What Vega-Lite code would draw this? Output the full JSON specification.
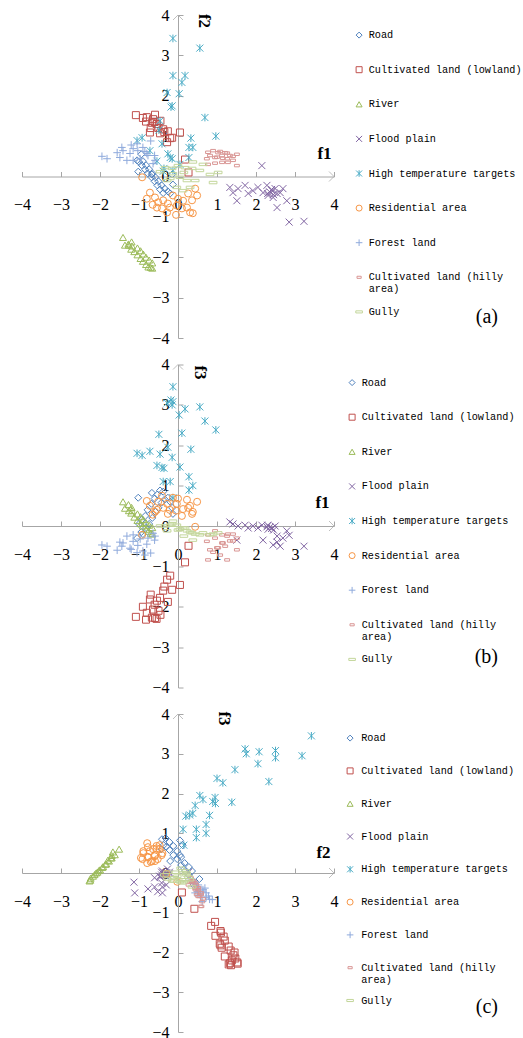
{
"$schema": "https://vega.github.io/schema/vega-lite/v6.json",
"padding": {"left": 13, "top": 7, "right": 0, "bottom": 0},
"bounds": "flush",
"spacing": 26.5,
"datasets": {
"pts": [
{"cls":"Road","f1":-0.94,"f2":0.55,"f3":-0.15},{"cls":"Road","f1":-1.05,"f2":0.4,"f3":-0.3},{"cls":"Road","f1":-1.0,"f2":0.36,"f3":0.05},{"cls":"Road","f1":-0.9,"f2":0.38,"f3":-0.2},{"cls":"Road","f1":-0.93,"f2":0.28,"f3":0.15},{"cls":"Road","f1":-0.82,"f2":0.28,"f3":-0.05},{"cls":"Road","f1":-0.84,"f2":0.17,"f3":0.25},{"cls":"Road","f1":-0.74,"f2":0.18,"f3":0.05},{"cls":"Road","f1":-0.78,"f2":0.08,"f3":0.4},{"cls":"Road","f1":-0.66,"f2":0.08,"f3":0.2},{"cls":"Road","f1":-0.68,"f2":-0.02,"f3":0.55},{"cls":"Road","f1":-0.58,"f2":-0.02,"f3":0.35},{"cls":"Road","f1":-0.6,"f2":-0.12,"f3":0.68},{"cls":"Road","f1":-0.5,"f2":-0.12,"f3":0.45},{"cls":"Road","f1":-0.53,"f2":-0.22,"f3":0.78},{"cls":"Road","f1":-0.42,"f2":-0.22,"f3":0.58},{"cls":"Road","f1":-0.46,"f2":-0.32,"f3":0.88},{"cls":"Road","f1":-0.34,"f2":-0.3,"f3":0.66},{"cls":"Road","f1":-0.38,"f2":-0.41,"f3":0.85},{"cls":"Road","f1":-0.26,"f2":-0.37,"f3":0.7},{"cls":"Road","f1":-0.2,"f2":-0.42,"f3":0.6},{"cls":"Road","f1":-1.02,"f2":0.12,"f3":0.7},{"cls":"Road","f1":-0.67,"f2":0.05,"f3":0.82},{"cls":"Road","f1":-0.13,"f2":-0.2,"f3":0.3},{"cls":"Road","f1":-0.15,"f2":0.05,"f3":0.45},
{"cls":"Cultivated land (lowland)","f1":-1.08,"f2":1.52,"f3":-2.25},{"cls":"Cultivated land (lowland)","f1":-0.82,"f2":1.36,"f3":-2.32},{"cls":"Cultivated land (lowland)","f1":-0.8,"f2":1.47,"f3":-2.15},{"cls":"Cultivated land (lowland)","f1":-0.67,"f2":1.33,"f3":-2.27},{"cls":"Cultivated land (lowland)","f1":-0.64,"f2":1.42,"f3":-2.07},{"cls":"Cultivated land (lowland)","f1":-0.72,"f2":1.09,"f3":-1.82},{"cls":"Cultivated land (lowland)","f1":-0.54,"f2":1.3,"f3":-1.85},{"cls":"Cultivated land (lowland)","f1":-0.46,"f2":1.07,"f3":-1.78},{"cls":"Cultivated land (lowland)","f1":-0.38,"f2":1.17,"f3":-1.6},{"cls":"Cultivated land (lowland)","f1":-0.28,"f2":0.85,"f3":-1.33},{"cls":"Cultivated land (lowland)","f1":-0.2,"f2":0.95,"f3":-1.23},{"cls":"Cultivated land (lowland)","f1":-0.15,"f2":0.96,"f3":-1.58},{"cls":"Cultivated land (lowland)","f1":0.05,"f2":1.09,"f3":-1.46},{"cls":"Cultivated land (lowland)","f1":-0.26,"f2":1.12,"f3":-1.88},{"cls":"Cultivated land (lowland)","f1":-0.6,"f2":1.35,"f3":-1.95},{"cls":"Cultivated land (lowland)","f1":-0.5,"f2":1.2,"f3":-2.1},{"cls":"Cultivated land (lowland)","f1":-0.9,"f2":1.45,"f3":-2.0},{"cls":"Cultivated land (lowland)","f1":-0.35,"f2":1.1,"f3":-1.5},{"cls":"Cultivated land (lowland)","f1":-0.7,"f2":1.2,"f3":-1.7},{"cls":"Cultivated land (lowland)","f1":-0.45,"f2":1.38,"f3":-2.2},{"cls":"Cultivated land (lowland)","f1":-0.55,"f2":1.3,"f3":-2.3},{"cls":"Cultivated land (lowland)","f1":-0.59,"f2":1.53,"f3":-2.28},{"cls":"Cultivated land (lowland)","f1":0.27,"f2":0.1,"f3":-0.49},{"cls":"Cultivated land (lowland)","f1":0.18,"f2":0.42,"f3":-0.9},
{"cls":"River","f1":-1.41,"f2":-1.51,"f3":0.6},{"cls":"River","f1":-1.27,"f2":-1.67,"f3":0.53},{"cls":"River","f1":-1.36,"f2":-1.7,"f3":0.44},{"cls":"River","f1":-1.19,"f2":-1.62,"f3":0.46},{"cls":"River","f1":-1.26,"f2":-1.7,"f3":0.38},{"cls":"River","f1":-1.18,"f2":-1.72,"f3":0.38},{"cls":"River","f1":-1.2,"f2":-1.8,"f3":0.32},{"cls":"River","f1":-1.04,"f2":-1.77,"f3":0.3},{"cls":"River","f1":-1.12,"f2":-1.86,"f3":0.22},{"cls":"River","f1":-0.96,"f2":-1.84,"f3":0.23},{"cls":"River","f1":-1.04,"f2":-1.94,"f3":0.14},{"cls":"River","f1":-0.89,"f2":-1.92,"f3":0.16},{"cls":"River","f1":-0.96,"f2":-2.03,"f3":0.06},{"cls":"River","f1":-0.82,"f2":-2.0,"f3":0.08},{"cls":"River","f1":-0.9,"f2":-2.1,"f3":0.0},{"cls":"River","f1":-0.74,"f2":-2.07,"f3":0.02},{"cls":"River","f1":-0.82,"f2":-2.18,"f3":-0.08},{"cls":"River","f1":-0.66,"f2":-2.14,"f3":-0.04},{"cls":"River","f1":-0.76,"f2":-2.24,"f3":-0.13},{"cls":"River","f1":-0.66,"f2":-2.27,"f3":-0.2},{"cls":"River","f1":-0.7,"f2":-2.25,"f3":-0.18},
{"cls":"Flood plain","f1":1.33,"f2":-0.27,"f3":0.1},{"cls":"Flood plain","f1":1.41,"f2":-0.4,"f3":0.05},{"cls":"Flood plain","f1":1.54,"f2":-0.3,"f3":0.0},{"cls":"Flood plain","f1":1.72,"f2":-0.22,"f3":0.02},{"cls":"Flood plain","f1":1.8,"f2":-0.42,"f3":-0.05},{"cls":"Flood plain","f1":1.92,"f2":-0.35,"f3":0.0},{"cls":"Flood plain","f1":2.05,"f2":-0.27,"f3":-0.05},{"cls":"Flood plain","f1":2.18,"f2":-0.4,"f3":-0.35},{"cls":"Flood plain","f1":2.28,"f2":-0.22,"f3":-0.02},{"cls":"Flood plain","f1":2.31,"f2":-0.47,"f3":-0.08},{"cls":"Flood plain","f1":2.41,"f2":-0.35,"f3":-0.05},{"cls":"Flood plain","f1":2.44,"f2":-0.52,"f3":-0.47},{"cls":"Flood plain","f1":2.49,"f2":-0.3,"f3":0.0},{"cls":"Flood plain","f1":2.54,"f2":-0.42,"f3":-0.25},{"cls":"Flood plain","f1":2.62,"f2":-0.4,"f3":-0.5},{"cls":"Flood plain","f1":2.69,"f2":-0.3,"f3":-0.3},{"cls":"Flood plain","f1":2.54,"f2":-0.77,"f3":-0.4},{"cls":"Flood plain","f1":2.85,"f2":-1.13,"f3":-0.23},{"cls":"Flood plain","f1":3.23,"f2":-1.11,"f3":-0.5},{"cls":"Flood plain","f1":2.15,"f2":0.27,"f3":0.02},{"cls":"Flood plain","f1":2.35,"f2":-0.38,"f3":-0.03},{"cls":"Flood plain","f1":2.45,"f2":-0.45,"f3":-0.1},{"cls":"Flood plain","f1":2.4,"f2":-0.32,"f3":-0.06},{"cls":"Flood plain","f1":2.3,"f2":-0.42,"f3":0.02},{"cls":"Flood plain","f1":2.79,"f2":-0.6,"f3":-0.12},{"cls":"Flood plain","f1":1.51,"f2":-0.6,"f3":-0.35},
{"cls":"High temperature targets","f1":-0.13,"f2":3.42,"f3":3.45},{"cls":"High temperature targets","f1":0.56,"f2":3.18,"f3":2.95},{"cls":"High temperature targets","f1":-0.13,"f2":2.5,"f3":3.08},{"cls":"High temperature targets","f1":0.18,"f2":2.5,"f3":2.9},{"cls":"High temperature targets","f1":0.1,"f2":2.33,"f3":2.3},{"cls":"High temperature targets","f1":0.03,"f2":2.05,"f3":2.75},{"cls":"High temperature targets","f1":-0.28,"f2":2.08,"f3":3.05},{"cls":"High temperature targets","f1":-0.15,"f2":1.75,"f3":3.0},{"cls":"High temperature targets","f1":-0.18,"f2":1.72,"f3":3.12},{"cls":"High temperature targets","f1":0.69,"f2":1.46,"f3":2.6},{"cls":"High temperature targets","f1":0.97,"f2":1.0,"f3":2.38},{"cls":"High temperature targets","f1":-0.46,"f2":1.38,"f3":1.78},{"cls":"High temperature targets","f1":-0.49,"f2":1.15,"f3":2.27},{"cls":"High temperature targets","f1":0.33,"f2":0.95,"f3":1.9},{"cls":"High temperature targets","f1":-0.92,"f2":0.96,"f3":1.75},{"cls":"High temperature targets","f1":-1.05,"f2":0.89,"f3":1.8},{"cls":"High temperature targets","f1":-0.72,"f2":0.64,"f3":1.85},{"cls":"High temperature targets","f1":-0.26,"f2":0.56,"f3":1.95},{"cls":"High temperature targets","f1":-0.15,"f2":0.44,"f3":1.7},{"cls":"High temperature targets","f1":-0.54,"f2":0.38,"f3":1.5},{"cls":"High temperature targets","f1":-0.36,"f2":0.2,"f3":1.43},{"cls":"High temperature targets","f1":0.05,"f2":0.3,"f3":1.46},{"cls":"High temperature targets","f1":0.38,"f2":0.72,"f3":1.0},{"cls":"High temperature targets","f1":0.28,"f2":0.72,"f3":1.22},{"cls":"High temperature targets","f1":0.28,"f2":0.47,"f3":0.89},{"cls":"High temperature targets","f1":-0.13,"f2":0.15,"f3":0.7},{"cls":"High temperature targets","f1":-0.38,"f2":0.13,"f3":1.1},{"cls":"High temperature targets","f1":-0.2,"f2":0.47,"f3":1.1},{"cls":"High temperature targets","f1":-0.41,"f2":0.81,"f3":1.45},
{"cls":"Residential area","f1":-0.92,"f2":-0.02,"f3":-0.22},{"cls":"Residential area","f1":-0.72,"f2":-0.4,"f3":0.5},{"cls":"Residential area","f1":-0.59,"f2":-0.52,"f3":0.35},{"cls":"Residential area","f1":-0.51,"f2":-0.64,"f3":0.6},{"cls":"Residential area","f1":-0.38,"f2":-0.59,"f3":0.45},{"cls":"Residential area","f1":-0.26,"f2":-0.67,"f3":0.3},{"cls":"Residential area","f1":-0.13,"f2":-0.47,"f3":0.7},{"cls":"Residential area","f1":-0.21,"f2":-0.77,"f3":0.4},{"cls":"Residential area","f1":-0.03,"f2":-0.72,"f3":0.55},{"cls":"Residential area","f1":0.1,"f2":-0.79,"f3":0.25},{"cls":"Residential area","f1":0.23,"f2":-0.77,"f3":0.65},{"cls":"Residential area","f1":0.31,"f2":-0.89,"f3":0.5},{"cls":"Residential area","f1":0.38,"f2":-0.91,"f3":0.35},{"cls":"Residential area","f1":0.26,"f2":-0.42,"f3":0.45},{"cls":"Residential area","f1":0.49,"f2":-0.47,"f3":0.6},{"cls":"Residential area","f1":0.36,"f2":-0.59,"f3":0.3},{"cls":"Residential area","f1":-0.54,"f2":-0.77,"f3":0.4},{"cls":"Residential area","f1":-0.41,"f2":-0.79,"f3":0.75},{"cls":"Residential area","f1":-0.28,"f2":-0.89,"f3":0.55},{"cls":"Residential area","f1":-0.8,"f2":-0.55,"f3":0.62},{"cls":"Residential area","f1":-0.65,"f2":-0.7,"f3":0.28},{"cls":"Residential area","f1":0.13,"f2":-0.6,"f3":0.42},{"cls":"Residential area","f1":-0.05,"f2":-0.95,"f3":0.38},{"cls":"Residential area","f1":0.44,"f2":-0.3,"f3":-0.02},{"cls":"Residential area","f1":0.0,"f2":-0.55,"f3":0.68},
{"cls":"Forest land","f1":-1.82,"f2":0.44,"f3":-0.5},{"cls":"Forest land","f1":-1.56,"f2":0.59,"f3":-0.6},{"cls":"Forest land","f1":-1.41,"f2":0.64,"f3":-0.42},{"cls":"Forest land","f1":-1.23,"f2":0.57,"f3":-0.55},{"cls":"Forest land","f1":-1.15,"f2":0.69,"f3":-0.38},{"cls":"Forest land","f1":-1.03,"f2":0.64,"f3":-0.48},{"cls":"Forest land","f1":-0.9,"f2":0.72,"f3":-0.62},{"cls":"Forest land","f1":-0.77,"f2":0.52,"f3":-0.3},{"cls":"Forest land","f1":-0.59,"f2":0.4,"f3":-0.25},{"cls":"Forest land","f1":-1.31,"f2":0.4,"f3":-0.25},{"cls":"Forest land","f1":-0.97,"f2":0.44,"f3":-0.32},{"cls":"Forest land","f1":-1.15,"f2":0.4,"f3":-0.22},{"cls":"Forest land","f1":-1.49,"f2":0.47,"f3":-0.4},{"cls":"Forest land","f1":-1.44,"f2":0.72,"f3":-0.5},{"cls":"Forest land","f1":-1.05,"f2":0.81,"f3":-0.66},{"cls":"Forest land","f1":-0.8,"f2":0.57,"f3":-0.45},{"cls":"Forest land","f1":-0.64,"f2":0.32,"f3":-0.18},{"cls":"Forest land","f1":-1.95,"f2":0.5,"f3":-0.47},{"cls":"Forest land","f1":-0.7,"f2":0.88,"f3":-0.67},{"cls":"Forest land","f1":-0.85,"f2":0.62,"f3":-0.72},{"cls":"Forest land","f1":-1.2,"f2":0.78,"f3":-0.58},{"cls":"Forest land","f1":-0.6,"f2":0.52,"f3":-0.35},
{"cls":"Cultivated land (hilly area)","f1":0.74,"f2":0.44,"f3":-0.38},{"cls":"Cultivated land (hilly area)","f1":0.82,"f2":0.52,"f3":-0.59},{"cls":"Cultivated land (hilly area)","f1":0.95,"f2":0.47,"f3":-0.3},{"cls":"Cultivated land (hilly area)","f1":1.03,"f2":0.59,"f3":-0.54},{"cls":"Cultivated land (hilly area)","f1":1.13,"f2":0.52,"f3":-0.42},{"cls":"Cultivated land (hilly area)","f1":1.21,"f2":0.59,"f3":-0.5},{"cls":"Cultivated land (hilly area)","f1":1.26,"f2":0.44,"f3":-0.25},{"cls":"Cultivated land (hilly area)","f1":1.33,"f2":0.52,"f3":-0.37},{"cls":"Cultivated land (hilly area)","f1":1.41,"f2":0.4,"f3":-0.2},{"cls":"Cultivated land (hilly area)","f1":1.51,"f2":0.27,"f3":-0.3},{"cls":"Cultivated land (hilly area)","f1":0.9,"f2":0.64,"f3":-0.65},{"cls":"Cultivated land (hilly area)","f1":1.13,"f2":0.35,"f3":-0.22},{"cls":"Cultivated land (hilly area)","f1":1.28,"f2":0.35,"f3":-0.2},{"cls":"Cultivated land (hilly area)","f1":0.77,"f2":0.3,"f3":-0.22},{"cls":"Cultivated land (hilly area)","f1":1.08,"f2":0.62,"f3":-0.72},{"cls":"Cultivated land (hilly area)","f1":1.26,"f2":0.58,"f3":-0.84},{"cls":"Cultivated land (hilly area)","f1":0.77,"f2":0.6,"f3":-0.84},{"cls":"Cultivated land (hilly area)","f1":1.0,"f2":0.48,"f3":-0.54},{"cls":"Cultivated land (hilly area)","f1":1.15,"f2":0.45,"f3":-0.42},{"cls":"Cultivated land (hilly area)","f1":1.41,"f2":0.5,"f3":-0.37},{"cls":"Cultivated land (hilly area)","f1":0.95,"f2":0.33,"f3":-0.12},{"cls":"Cultivated land (hilly area)","f1":1.51,"f2":0.55,"f3":-0.59},
{"cls":"Gully","f1":-0.33,"f2":0.22,"f3":0.0},{"cls":"Gully","f1":-0.15,"f2":0.2,"f3":0.05},{"cls":"Gully","f1":0.0,"f2":0.27,"f3":-0.1},{"cls":"Gully","f1":0.18,"f2":0.22,"f3":-0.05},{"cls":"Gully","f1":0.36,"f2":0.2,"f3":-0.17},{"cls":"Gully","f1":0.56,"f2":0.15,"f3":-0.22},{"cls":"Gully","f1":-0.13,"f2":0.07,"f3":0.12},{"cls":"Gully","f1":0.05,"f2":-0.02,"f3":-0.08},{"cls":"Gully","f1":0.23,"f2":-0.1,"f3":-0.12},{"cls":"Gully","f1":0.44,"f2":-0.1,"f3":-0.2},{"cls":"Gully","f1":-0.28,"f2":-0.1,"f3":-0.12},{"cls":"Gully","f1":-0.03,"f2":-0.27,"f3":0.02},{"cls":"Gully","f1":0.13,"f2":-0.35,"f3":-0.05},{"cls":"Gully","f1":0.31,"f2":-0.27,"f3":-0.15},{"cls":"Gully","f1":0.9,"f2":-0.15,"f3":-0.2},{"cls":"Gully","f1":1.03,"f2":0.1,"f3":-0.17},{"cls":"Gully","f1":0.82,"f2":0.05,"f3":-0.22},{"cls":"Gully","f1":0.64,"f2":0.3,"f3":-0.17},{"cls":"Gully","f1":-0.46,"f2":0.12,"f3":0.0},{"cls":"Gully","f1":0.38,"f2":0.36,"f3":-0.35},{"cls":"Gully","f1":-0.2,"f2":-0.05,"f3":0.02},{"cls":"Gully","f1":0.15,"f2":0.1,"f3":-0.25}
],
"arrAr": [{"f1": 4, "f2": 0}], "arrAu": [{"f1": 0, "f2": 4}],
"arrBr": [{"f1": 4, "f3": 0}], "arrBu": [{"f1": 0, "f3": 4}],
"arrCr": [{"f2": 4, "f3": 0}], "arrCu": [{"f2": 0, "f3": 4}]
},
"config": {
"view": {"stroke": null},
"axis": {"grid": false, "domainColor": "#a6a6a6", "tickColor": "#a6a6a6", "tickSize": -5, "labelFont": "Liberation Serif", "labelFontSize": 16, "labelColor": "#000000", "labelOverlap": false, "labelFlush": false, "labelBound": false, "titleFont": "Liberation Serif", "titleFontSize": 17, "titleFontWeight": "bold", "titleColor": "#000000"},
"legend": {"orient": "none", "padding": 0, "labelFont": "Liberation Mono", "labelFontSize": 10.2, "labelColor": "#000000", "symbolSize": 36, "symbolStrokeWidth": 1, "symbolOpacity": 1, "labelOffset": 5, "labelLimit": 400, "gridAlign": "all"},
"title": {"font": "Liberation Serif", "fontSize": 20, "fontWeight": "normal", "color": "#000000"}
},
"resolve": {"scale": {"color": "independent", "shape": "independent"}, "legend": {"color": "independent", "shape": "independent"}},
"vconcat": [
{
"width": 312, "height": 323,
"title": {"text": "(a)", "orient": "bottom", "anchor": "end", "frame": "group", "dx": 164, "dy": -39, "offset": 0},
"layer": [
{"data": {"name": "pts"},
"mark": {"type": "point", "filled": false, "strokeWidth": 1, "size": 49, "opacity": 1},
"encoding": {
"x": {"field": "f1", "type": "quantitative", "scale": {"domain": [-4, 4], "nice": false, "zero": false}, "axis": {"orient": "bottom", "offset": -161.5, "values": [-4,-3,-2,-1,0,1,2,3,4], "labelOverlap": false, "labelPadding": 25, "title": "f1", "titleX": 302, "titleY": -23.5, "titleBaseline": "middle", "titleAlign": "center", "titleAngle": 0}},
"y": {"field": "f2", "type": "quantitative", "scale": {"domain": [-4, 4], "nice": false, "zero": false}, "axis": {"orient": "left", "offset": -156, "values": [-4,-3,-2,-1,0,1,2,3,4], "labelOverlap": false, "labelPadding": 14, "title": "f2", "titleX": 25.5, "titleY": 5.5, "titleAngle": 90, "titleBaseline": "middle", "titleAlign": "center"}},
"color": {"field": "cls", "type": "nominal", "scale": {"domain": ["Road","Cultivated land (lowland)","River","Flood plain","High temperature targets","Residential area","Forest land","Cultivated land (hilly area)","Gully"], "range": ["#4F81BD","#C0504D","#9BBB59","#8064A2","#4BACC6","#F79646","#8FAADC","#D99694","#C3D69B"]}, "legend": {"title": null, "legendX": 332, "legendY": 15, "rowPadding": 10.6, "labelOffset": 4.5, "labelExpr": "datum.label == 'Cultivated land (hilly area)' ? ['Cultivated land (hilly', 'area)'] : datum.label"}},
"shape": {"field": "cls", "type": "nominal", "scale": {"domain": ["Road","Cultivated land (lowland)","River","Flood plain","High temperature targets","Residential area","Forest land","Cultivated land (hilly area)","Gully"], "range": ["diamond","square","triangle-up","M-1,-1L1,1M-1,1L1,-1","M-1,-1L1,1M-1,1L1,-1M0,-1.1V1.1","circle","M-1.1,0H1.1M0,-1.1V1.1","M-0.7,-0.35H0.7V0.35H-0.7Z","M-1.1,-0.35H1.1V0.35H-1.1Z"]}, "legend": {"title": null, "legendX": 332, "legendY": 15, "rowPadding": 10.6, "labelOffset": 4.5, "labelExpr": "datum.label == 'Cultivated land (hilly area)' ? ['Cultivated land (hilly', 'area)'] : datum.label"}}
}},
{"data": {"name": "arrAr"}, "mark": {"type": "point", "shape": "M-1,-1L0,0L-1,1", "size": 100, "color": "#a6a6a6", "filled": false, "strokeWidth": 1},
"encoding": {"x": {"field": "f1", "type": "quantitative", "axis": {"orient": "bottom", "offset": -161.5, "values": [-4,-3,-2,-1,0,1,2,3,4], "labelOverlap": false, "labelPadding": 25, "title": "f1", "titleX": 302, "titleY": -23.5, "titleBaseline": "middle", "titleAlign": "center", "titleAngle": 0}}, "y": {"field": "f2", "type": "quantitative", "axis": {"orient": "left", "offset": -156, "values": [-4,-3,-2,-1,0,1,2,3,4], "labelOverlap": false, "labelPadding": 14, "title": "f2", "titleX": 25.5, "titleY": 5.5, "titleAngle": 90, "titleBaseline": "middle", "titleAlign": "center"}}}},
{"data": {"name": "arrAu"}, "mark": {"type": "point", "shape": "M-1,1L0,0L1,1", "size": 100, "color": "#a6a6a6", "filled": false, "strokeWidth": 1},
"encoding": {"x": {"field": "f1", "type": "quantitative", "axis": {"orient": "bottom", "offset": -161.5, "values": [-4,-3,-2,-1,0,1,2,3,4], "labelOverlap": false, "labelPadding": 25, "title": "f1", "titleX": 302, "titleY": -23.5, "titleBaseline": "middle", "titleAlign": "center", "titleAngle": 0}}, "y": {"field": "f2", "type": "quantitative", "axis": {"orient": "left", "offset": -156, "values": [-4,-3,-2,-1,0,1,2,3,4], "labelOverlap": false, "labelPadding": 14, "title": "f2", "titleX": 25.5, "titleY": 5.5, "titleAngle": 90, "titleBaseline": "middle", "titleAlign": "center"}}}}
]
},
{
"width": 312, "height": 323,
"title": {"text": "(b)", "orient": "bottom", "anchor": "end", "frame": "group", "dx": 164, "dy": -49, "offset": 0},
"layer": [
{"data": {"name": "pts"},
"mark": {"type": "point", "filled": false, "strokeWidth": 1, "size": 49, "opacity": 1},
"encoding": {
"x": {"field": "f1", "type": "quantitative", "scale": {"domain": [-4, 4], "nice": false, "zero": false}, "axis": {"orient": "bottom", "offset": -161.5, "values": [-4,-3,-2,-1,0,1,2,3,4], "labelOverlap": false, "labelPadding": 25, "title": "f1", "titleX": 300, "titleY": -24, "titleBaseline": "middle", "titleAlign": "center", "titleAngle": 0}},
"y": {"field": "f3", "type": "quantitative", "scale": {"domain": [-4, 4], "nice": false, "zero": false}, "axis": {"orient": "left", "offset": -156, "values": [-4,-3,-2,-1,0,1,2,3,4], "labelOverlap": false, "labelPadding": 14, "title": "f3", "titleX": 21, "titleY": 7.5, "titleAngle": 90, "titleBaseline": "middle", "titleAlign": "center"}},
"color": {"field": "cls", "type": "nominal", "scale": {"domain": ["Road","Cultivated land (lowland)","River","Flood plain","High temperature targets","Residential area","Forest land","Cultivated land (hilly area)","Gully"], "range": ["#4F81BD","#C0504D","#9BBB59","#8064A2","#4BACC6","#F79646","#8FAADC","#D99694","#C3D69B"]}, "legend": {"title": null, "legendX": 325, "legendY": 13, "rowPadding": 10.6, "labelOffset": 4.5, "labelExpr": "datum.label == 'Cultivated land (hilly area)' ? ['Cultivated land (hilly', 'area)'] : datum.label"}},
"shape": {"field": "cls", "type": "nominal", "scale": {"domain": ["Road","Cultivated land (lowland)","River","Flood plain","High temperature targets","Residential area","Forest land","Cultivated land (hilly area)","Gully"], "range": ["diamond","square","triangle-up","M-1,-1L1,1M-1,1L1,-1","M-1,-1L1,1M-1,1L1,-1M0,-1.1V1.1","circle","M-1.1,0H1.1M0,-1.1V1.1","M-0.7,-0.35H0.7V0.35H-0.7Z","M-1.1,-0.35H1.1V0.35H-1.1Z"]}, "legend": {"title": null, "legendX": 325, "legendY": 13, "rowPadding": 10.6, "labelOffset": 4.5, "labelExpr": "datum.label == 'Cultivated land (hilly area)' ? ['Cultivated land (hilly', 'area)'] : datum.label"}}
}},
{"data": {"name": "arrBr"}, "mark": {"type": "point", "shape": "M-1,-1L0,0L-1,1", "size": 100, "color": "#a6a6a6", "filled": false, "strokeWidth": 1},
"encoding": {"x": {"field": "f1", "type": "quantitative", "axis": {"orient": "bottom", "offset": -161.5, "values": [-4,-3,-2,-1,0,1,2,3,4], "labelOverlap": false, "labelPadding": 25, "title": "f1", "titleX": 300, "titleY": -24, "titleBaseline": "middle", "titleAlign": "center", "titleAngle": 0}}, "y": {"field": "f3", "type": "quantitative", "axis": {"orient": "left", "offset": -156, "values": [-4,-3,-2,-1,0,1,2,3,4], "labelOverlap": false, "labelPadding": 14, "title": "f3", "titleX": 21, "titleY": 7.5, "titleAngle": 90, "titleBaseline": "middle", "titleAlign": "center"}}}},
{"data": {"name": "arrBu"}, "mark": {"type": "point", "shape": "M-1,1L0,0L1,1", "size": 100, "color": "#a6a6a6", "filled": false, "strokeWidth": 1},
"encoding": {"x": {"field": "f1", "type": "quantitative", "axis": {"orient": "bottom", "offset": -161.5, "values": [-4,-3,-2,-1,0,1,2,3,4], "labelOverlap": false, "labelPadding": 25, "title": "f1", "titleX": 300, "titleY": -24, "titleBaseline": "middle", "titleAlign": "center", "titleAngle": 0}}, "y": {"field": "f3", "type": "quantitative", "axis": {"orient": "left", "offset": -156, "values": [-4,-3,-2,-1,0,1,2,3,4], "labelOverlap": false, "labelPadding": 14, "title": "f3", "titleX": 21, "titleY": 7.5, "titleAngle": 90, "titleBaseline": "middle", "titleAlign": "center"}}}}
]
},
{
"width": 312, "height": 318,
"title": {"text": "(c)", "orient": "bottom", "anchor": "end", "frame": "group", "dx": 164, "dy": -43, "offset": 0},
"layer": [
{"data": {"name": "pts"},
"mark": {"type": "point", "filled": false, "strokeWidth": 1, "size": 49, "opacity": 1},
"encoding": {
"x": {"field": "f2", "type": "quantitative", "scale": {"domain": [-4, 4], "nice": false, "zero": false}, "axis": {"orient": "bottom", "offset": -159, "values": [-4,-3,-2,-1,0,1,2,3,4], "labelOverlap": false, "labelPadding": 25, "title": "f2", "titleX": 301, "titleY": -21, "titleBaseline": "middle", "titleAlign": "center", "titleAngle": 0}},
"y": {"field": "f3", "type": "quantitative", "scale": {"domain": [-4, 4], "nice": false, "zero": false}, "axis": {"orient": "left", "offset": -156, "values": [-4,-3,-2,-1,0,1,2,3,4], "labelOverlap": false, "labelPadding": 14, "title": "f3", "titleX": 45, "titleY": 4, "titleAngle": 90, "titleBaseline": "middle", "titleAlign": "center"}},
"color": {"field": "cls", "type": "nominal", "scale": {"domain": ["Road","Cultivated land (lowland)","River","Flood plain","High temperature targets","Residential area","Forest land","Cultivated land (hilly area)","Gully"], "range": ["#4F81BD","#C0504D","#9BBB59","#8064A2","#4BACC6","#F79646","#8FAADC","#D99694","#C3D69B"]}, "legend": {"title": null, "legendX": 323, "legendY": 19, "rowPadding": 8.8, "labelOffset": 6, "labelExpr": "datum.label == 'Cultivated land (hilly area)' ? ['Cultivated land (hilly', 'area)'] : datum.label"}},
"shape": {"field": "cls", "type": "nominal", "scale": {"domain": ["Road","Cultivated land (lowland)","River","Flood plain","High temperature targets","Residential area","Forest land","Cultivated land (hilly area)","Gully"], "range": ["diamond","square","triangle-up","M-1,-1L1,1M-1,1L1,-1","M-1,-1L1,1M-1,1L1,-1M0,-1.1V1.1","circle","M-1.1,0H1.1M0,-1.1V1.1","M-0.7,-0.35H0.7V0.35H-0.7Z","M-1.1,-0.35H1.1V0.35H-1.1Z"]}, "legend": {"title": null, "legendX": 323, "legendY": 19, "rowPadding": 8.8, "labelOffset": 6, "labelExpr": "datum.label == 'Cultivated land (hilly area)' ? ['Cultivated land (hilly', 'area)'] : datum.label"}}
}},
{"data": {"name": "arrCr"}, "mark": {"type": "point", "shape": "M-1,-1L0,0L-1,1", "size": 100, "color": "#a6a6a6", "filled": false, "strokeWidth": 1},
"encoding": {"x": {"field": "f2", "type": "quantitative", "axis": {"orient": "bottom", "offset": -159, "values": [-4,-3,-2,-1,0,1,2,3,4], "labelOverlap": false, "labelPadding": 25, "title": "f2", "titleX": 301, "titleY": -21, "titleBaseline": "middle", "titleAlign": "center", "titleAngle": 0}}, "y": {"field": "f3", "type": "quantitative", "axis": {"orient": "left", "offset": -156, "values": [-4,-3,-2,-1,0,1,2,3,4], "labelOverlap": false, "labelPadding": 14, "title": "f3", "titleX": 45, "titleY": 4, "titleAngle": 90, "titleBaseline": "middle", "titleAlign": "center"}}}},
{"data": {"name": "arrCu"}, "mark": {"type": "point", "shape": "M-1,1L0,0L1,1", "size": 100, "color": "#a6a6a6", "filled": false, "strokeWidth": 1},
"encoding": {"x": {"field": "f2", "type": "quantitative", "axis": {"orient": "bottom", "offset": -159, "values": [-4,-3,-2,-1,0,1,2,3,4], "labelOverlap": false, "labelPadding": 25, "title": "f2", "titleX": 301, "titleY": -21, "titleBaseline": "middle", "titleAlign": "center", "titleAngle": 0}}, "y": {"field": "f3", "type": "quantitative", "axis": {"orient": "left", "offset": -156, "values": [-4,-3,-2,-1,0,1,2,3,4], "labelOverlap": false, "labelPadding": 14, "title": "f3", "titleX": 45, "titleY": 4, "titleAngle": 90, "titleBaseline": "middle", "titleAlign": "center"}}}}
]
}
]
}
